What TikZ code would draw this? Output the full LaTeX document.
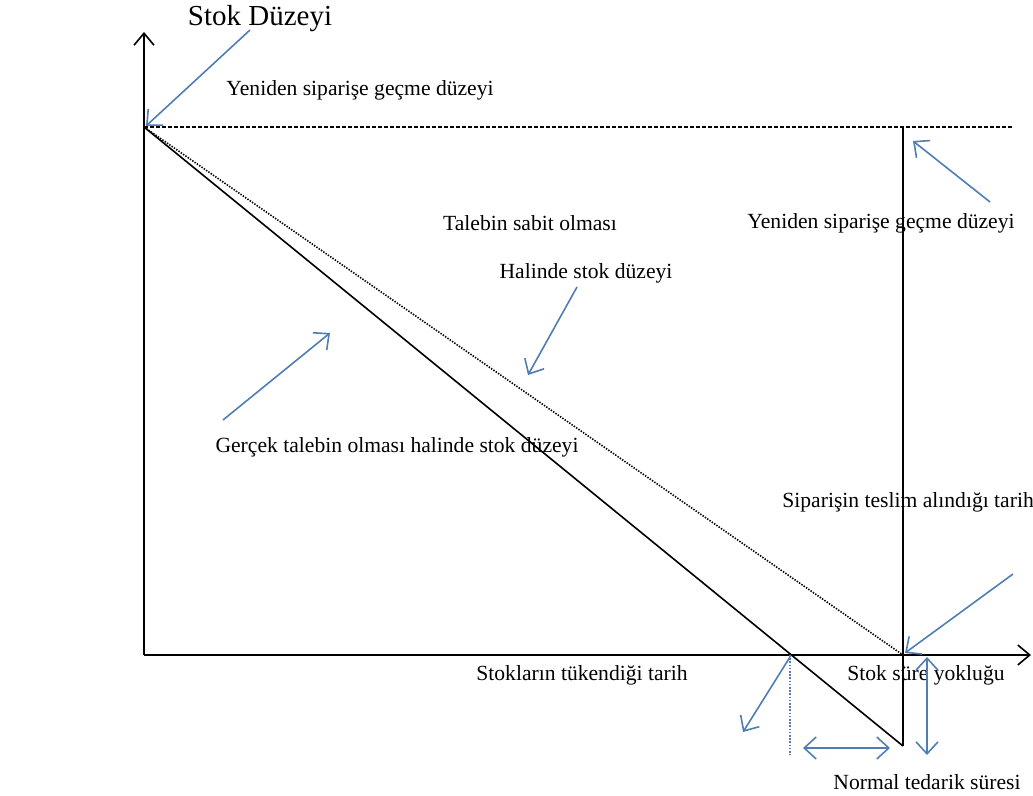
\documentclass[tikz,border=0pt]{standalone}
\usepackage{fontspec}
\setmainfont{Liberation Serif}
\usepackage{xcolor}
\usepackage{tikz}
\usetikzlibrary{arrows,arrows.meta,shapes}
\definecolor{okmavi}{RGB}{80,125,180}
\tikzset{
  etiket/.style={font=\fontsize{10.8}{13}\selectfont, inner sep=0pt},
  okcizgi/.style={draw=okmavi, line width=0.8pt, -{Straight Barb[length=6pt,width=11pt]}},
  ciftok/.style={draw=okmavi, line width=0.8pt, {Straight Barb[length=6pt,width=11pt]}-{Straight Barb[length=6pt,width=11pt]}},
  eksen/.style={line width=0.8pt, -{Straight Barb[length=6pt,width=10pt]}}
}
\begin{document}
\begin{tikzpicture}[x=0.5pt, y=-0.5pt]
                        \useasboundingbox (0,0) rectangle (1033,796);
                        \coordinate (O) at (144,655);
                        \coordinate (ytop) at (144,32);
                        \coordinate (xend) at (1031,655);
                        \coordinate (R) at (144,127);
                        \coordinate (Rend) at (1013,127);
                        \coordinate (D) at (903,655);
                        \coordinate (Dtop) at (903,127);
                        \coordinate (Dbot) at (903,746);
                        \coordinate (Z) at (790,655);
                        \coordinate (Zbot) at (790,755);
                        \draw[eksen] (O) -- (ytop);
                        \draw[eksen] (O) -- (xend);
                        \draw[line width=0.9pt, dash pattern=on 2pt off 1pt] (R) -- (Rend);
                        \draw[line width=0.6pt] (Dtop) -- (Dbot);
                        \draw[line width=0.8pt] (R) -- (Dbot);
                        \draw[line width=0.8pt, dash pattern=on 0.7pt off 0.7pt] (R) -- (D);
                        \draw[okmavi, line width=0.7pt, dash pattern=on 0.8pt off 0.8pt] (Z) -- (Zbot);
                        \node[font=\fontsize{14.5}{17}\selectfont, inner sep=0pt] (baslik) at (260,19) {Stok Düzeyi};
                        \node[etiket] (yeniden1) at (360,90) {Yeniden siparişe geçme düzeyi};
                        \node[etiket] (sabit) at (530,223) {Talebin sabit olması};
                        \node[etiket] (yeniden2) at (881,223) {Yeniden siparişe geçme düzeyi};
                        \node[etiket] (halinde) at (586,273) {Halinde stok düzeyi};
                        \node[etiket] (gercek) at (397,447) {Gerçek talebin olması halinde stok düzeyi};
                        \node[etiket, anchor=west] (teslim) at (782,502) {Siparişin teslim alındığı tarih};
                        \node[etiket] (tukendi) at (582,675) {Stokların tükendiği tarih};
                        \node[etiket] (yokluk) at (926,675) {Stok süre yokluğu};
                        \node[etiket] (normal) at (927,782) {Normal tedarik süresi};
                        \coordinate (a1s) at (250,30);   \coordinate (a1e) at (146,126);
                        \coordinate (a2s) at (990,202);  \coordinate (a2e) at (913,141);
                        \coordinate (a3s) at (577,287);  \coordinate (a3e) at (528,375);
                        \coordinate (a4s) at (223,420);  \coordinate (a4e) at (330,333);
                        \coordinate (a5s) at (1013,574); \coordinate (a5e) at (905,653);
                        \coordinate (a6s) at (790,657);  \coordinate (a6e) at (743,732);
                        \coordinate (a7s) at (803,748);  \coordinate (a7e) at (890,748);
                        \coordinate (a8s) at (927,657);  \coordinate (a8e) at (927,755);
                        \foreach \i in {1,...,6}
                        \draw[okcizgi] (a\i s) -- (a\i e);
                        \draw[ciftok] (a7s) -- (a7e);
                        \draw[ciftok] (a8s) -- (a8e);
                    \end{tikzpicture}
\end{document}
